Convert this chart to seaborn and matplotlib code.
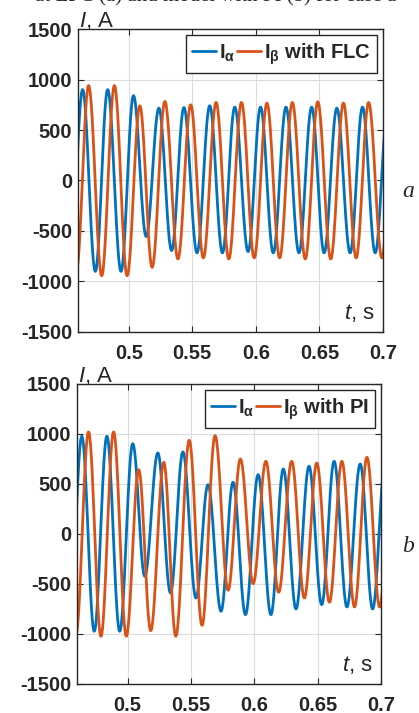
import numpy as np
import pandas as pd
import matplotlib
matplotlib.use("Agg")
import matplotlib.pyplot as plt
import seaborn as sns

# extrema (time, current), (a) with FLC, (b) with PI
t_a_alpha = [0.4537, 0.4637, 0.4737, 0.4834, 0.4939, 0.5037, 0.5137, 0.5237, 0.5337, 0.5434,
             0.5537, 0.5637, 0.5737, 0.5834, 0.5939, 0.6037, 0.6137, 0.6237, 0.6339, 0.6439,
             0.6537, 0.6637, 0.6742, 0.6839, 0.6939, 0.7039]
i_a_alpha = [-900, 900, -900, 900, -900, 840, -555, 717, -694, 723,
             -717, 740, -717, 727, -704, 727, -717, 727, -717, 727,
             -717, 717, -717, 727, -717, 727]
t_a_beta = [0.4587, 0.4684, 0.4787, 0.4887, 0.4987, 0.5087, 0.5184, 0.5284, 0.5387, 0.5487,
            0.5587, 0.5687, 0.5787, 0.5887, 0.5987, 0.6087, 0.6187, 0.6287, 0.6389, 0.6487,
            0.6589, 0.6689, 0.6789, 0.6887, 0.6992, 0.7087]
i_a_beta = [-900, 940, -943, 940, -943, 740, -860, 783, -777, 750,
            -767, 773, -777, 773, -767, 767, -767, 773, -777, 780,
            -777, 767, -767, 773, -767, 770]

t_b_alpha = [0.4538, 0.4638, 0.4736, 0.4836, 0.4937, 0.5040, 0.5135, 0.5238, 0.5338, 0.5436,
             0.5539, 0.5634, 0.5737, 0.5832, 0.5930, 0.6030, 0.6131, 0.6229, 0.6329, 0.6432,
             0.6532, 0.6630, 0.6731, 0.6836, 0.6934, 0.7034]
i_b_alpha = [-973, 977, -973, 977, -973, 903, -423, 810, -590, 820,
             -640, 493, -773, 517, -807, 593, -807, 650, -750, 677,
             -707, 727, -730, 700, -750, 720]
t_b_beta = [0.4591, 0.4691, 0.4789, 0.4889, 0.4989, 0.5087, 0.5182, 0.5285, 0.5380, 0.5486,
            0.5587, 0.5690, 0.5793, 0.5890, 0.5991, 0.6091, 0.6192, 0.6295, 0.6395, 0.6493,
            0.6593, 0.6691, 0.6791, 0.6889, 0.6989, 0.7089]
i_b_beta = [-1010, 1020, -1023, 1020, -1023, 643, -967, 717, -1023, 937,
            -913, 983, -563, 750, -497, 727, -583, 727, -640, 710,
            -683, 727, -730, 767, -730, 760]

x_ticks = [0.5, 0.55, 0.6, 0.65, 0.7]
x_labels = ["0.5", "0.55", "0.6", "0.65", "0.7"]
y_ticks = [-1500, -1000, -500, 0, 500, 1000, 1500]
blue, orange = "#0072BD", "#D95319"


def trace(ts, vs, name):
    # half-cosine shape between successive peaks/troughs
    rows = []
    for k in range(len(ts) - 1):
        s = np.linspace(0, 1, 30, endpoint=False)
        t = ts[k] + s * (ts[k + 1] - ts[k])
        v = (vs[k] + vs[k + 1]) / 2 + (vs[k] - vs[k + 1]) / 2 * np.cos(np.pi * s)
        rows.append(pd.DataFrame({"t": t, "I": v, "series": name}))
    return pd.concat(rows)


sns.set_theme(style="white")
plt.rcParams["font.family"] = ["Liberation Sans", "DejaVu Sans"]
plt.rcParams["mathtext.fontset"] = "custom"
plt.rcParams["mathtext.rm"] = "Liberation Sans"
plt.rcParams["mathtext.it"] = "Liberation Sans:italic"
plt.rcParams["mathtext.bf"] = "Liberation Sans:bold"

fig = plt.figure(figsize=(4.19, 7.13), dpi=100)
ax1 = fig.add_axes([0.186, 0.5344, 0.728, 0.4249])
ax2 = fig.add_axes([0.1838, 0.0407, 0.7255, 0.4208])

panels = [
    (ax1, t_a_alpha, i_a_alpha, t_a_beta, i_a_beta, "FLC"),
    (ax2, t_b_alpha, i_b_alpha, t_b_beta, i_b_beta, "PI"),
]
for ax, ta, ia, tb, ib, ctrl in panels:
    df = pd.concat([trace(ta, ia, "alpha"), trace(tb, ib, "beta")])
    sns.lineplot(data=df, x="t", y="I", hue="series", palette=[blue, orange],
                 linewidth=2.0, ax=ax, legend=False, sort=False, estimator=None)
    ax.set_xlim(0.46, 0.7)
    ax.set_ylim(-1500, 1500)
    ax.set_xticks(x_ticks)
    ax.set_xticklabels(x_labels)
    ax.set_yticks(y_ticks)
    ax.set_yticklabels([str(v) for v in y_ticks])
    ax.set_xlabel("")
    ax.set_ylabel("")
    ax.grid(True, color="#dcdcdc", linewidth=0.8)
    for sp in ax.spines.values():
        sp.set_color("#262626")
        sp.set_linewidth(1.0)
    ax.tick_params(direction="in", length=4, width=0.8, top=True, right=True,
                   bottom=True, left=True, colors="#262626", labelsize=14.5)
    ax.tick_params(axis="x", pad=9)
    ax.tick_params(axis="y", pad=4)
    for lbl in ax.get_xticklabels() + ax.get_yticklabels():
        lbl.set_fontweight("bold")
    leg = ax.legend(handles=ax.lines[:2],
                    labels=[r"$\mathbf{I_{\alpha}}$", r"$\mathbf{I_{\beta}}$ with " + ctrl],
                    loc="upper right", ncol=2, frameon=True, fancybox=False,
                    borderaxespad=0.3, borderpad=0.3, handlelength=1.2,
                    handletextpad=0.15, columnspacing=0.05,
                    prop={"weight": "bold", "size": 14.5})
    leg.get_frame().set_edgecolor("#262626")
    leg.get_frame().set_linewidth(1.0)
    leg.get_frame().set_alpha(1)
    ax.text(0.003, 1.007, r"$\mathit{I}$, A", transform=ax.transAxes,
            ha="left", va="baseline", fontsize=16, color="#262626")
    ax.text(0.975, 0.025, r"$\mathit{t}$, s", transform=ax.transAxes,
            ha="right", va="bottom", fontsize=16, color="#262626")

fig.text(402 / 419, 1 - 197 / 713, "a", fontsize=17, style="italic",
         family="Liberation Serif", ha="left", va="baseline")
fig.text(402 / 419, 1 - 552 / 713, "b", fontsize=17, style="italic",
         family="Liberation Serif", ha="left", va="baseline")
# caption line of the source page, cut off at the top edge
fig.text(35 / 419, 1 - 1.5 / 713, "at LFC (a) and model with PI (b) for case a",
         fontsize=15, family="Liberation Serif", ha="left", va="baseline")

fig.savefig("out.png", dpi=100, facecolor="white")
